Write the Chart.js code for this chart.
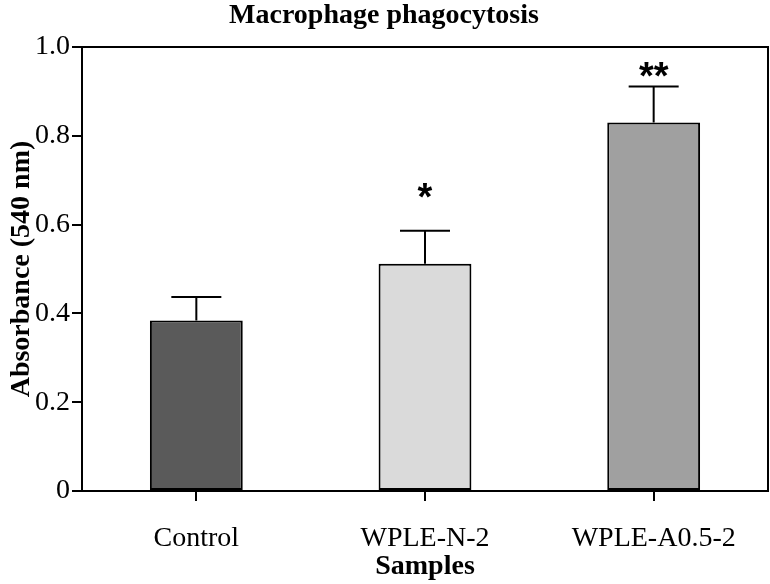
<!DOCTYPE html>
<html>
<head>
<meta charset="utf-8">
<script src="https://cdn.jsdelivr.net/npm/chart.js@4"></script>
<style>
  html, body { margin: 0; padding: 0; background: #fff; }
  #wrap { width: 770px; height: 584px; }
</style>
</head>
<body>
<div id="wrap"><canvas id="chartBarras"></canvas></div>
<script>
// Datos
const muestras = ['Control', 'WPLE-N-2', 'WPLE-A0.5-2'];
const absorbancia = [0.384, 0.512, 0.830];
const errores = [0.053, 0.074, 0.081];
const significancia = ['', '*', '**'];
const posicionAsterisco = [null, 0.676, 0.950];
const coloresBarras = ['#5a5a5a', '#dadada', '#a0a0a0'];
const ticksY = [0, 0.2, 0.4, 0.6, 0.8, 1.0];

const serif = "'Liberation Serif', 'Times New Roman', serif";

// Barras de error, marco y asteriscos
const pluginExtras = {
    id: 'extras',
    afterDatasetsDraw(chart) {
        const ctx = chart.ctx;
        const x = chart.scales.x;
        const y = chart.scales.y;
        const area = chart.chartArea;
        ctx.save();
        ctx.strokeStyle = '#000';
        ctx.lineWidth = 2;
        // marco superior y derecho
        ctx.beginPath();
        ctx.moveTo(area.left, area.top);
        ctx.lineTo(area.right, area.top);
        ctx.lineTo(area.right, area.bottom);
        ctx.stroke();

        absorbancia.forEach((v, i) => {
            const cx = x.getPixelForValue(i);
            const yTop = y.getPixelForValue(v);
            const yErr = y.getPixelForValue(v + errores[i]);
            ctx.beginPath();
            ctx.moveTo(cx, yTop);
            ctx.lineTo(cx, yErr);
            ctx.moveTo(cx - 25, yErr);
            ctx.lineTo(cx + 25, yErr);
            ctx.stroke();
            if (significancia[i]) {
                ctx.fillStyle = '#000';
                ctx.font = "bold 38px 'Liberation Sans', Arial, sans-serif";
                ctx.textAlign = 'center';
                ctx.textBaseline = 'middle';
                ctx.fillText(significancia[i], cx, y.getPixelForValue(posicionAsterisco[i]) + 9);
            }
        });
        ctx.restore();
    }
};

const ctx = document.getElementById('chartBarras').getContext('2d');
new Chart(ctx, {
    type: 'bar',
    data: {
        labels: muestras,
        datasets: [{
            data: absorbancia,
            backgroundColor: coloresBarras,
            borderColor: '#000',
            borderWidth: 2,
            borderSkipped: false,
            barPercentage: 0.406,
            categoryPercentage: 1
        }]
    },
    options: {
        responsive: true,
        maintainAspectRatio: false,
        animation: false,
        layout: { padding: { right: 2, left: 0, top: 0, bottom: 0 } },
        plugins: {
            legend: { display: false },
            tooltip: { enabled: false },
            title: {
                display: true,
                text: 'Macrophage phagocytosis',
                color: '#000',
                font: { family: serif, size: 28, weight: 'bold', lineHeight: 1.0 },
                padding: { top: 2, bottom: 17 }
            }
        },
        scales: {
            x: {
                grid: { drawOnChartArea: false, offset: false, tickLength: 10, color: '#000', lineWidth: 2 },
                border: { color: '#000', width: 2 },
                ticks: { color: '#000', font: { family: serif, size: 28 }, padding: 21 },
                title: {
                    display: true,
                    text: 'Samples',
                    color: '#000',
                    font: { family: serif, size: 28, weight: 'bold' },
                    padding: { top: 0, bottom: 0 }
                },
                afterFit(scale) { scale.height = 93; }
            },
            y: {
                min: 0,
                max: 1,
                afterBuildTicks(scale) { scale.ticks = ticksY.map(v => ({ value: v })); },
                grid: { drawOnChartArea: false, tickLength: 10, color: '#000', lineWidth: 2 },
                border: { color: '#000', width: 2 },
                ticks: {
                    color: '#000',
                    font: { family: serif, size: 28 },
                    padding: 2,
                    callback: v => v === 0 ? '0' : v.toFixed(1)
                },
                title: {
                    display: true,
                    text: 'Absorbance (540 nm)',
                    color: '#000',
                    font: { family: serif, size: 28, weight: 'bold' },
                    padding: { top: 5, bottom: 0 }
                },
                afterFit(scale) { scale.width = 82; }
            }
        }
    },
    plugins: [pluginExtras]
});
</script>
</body>
</html>
